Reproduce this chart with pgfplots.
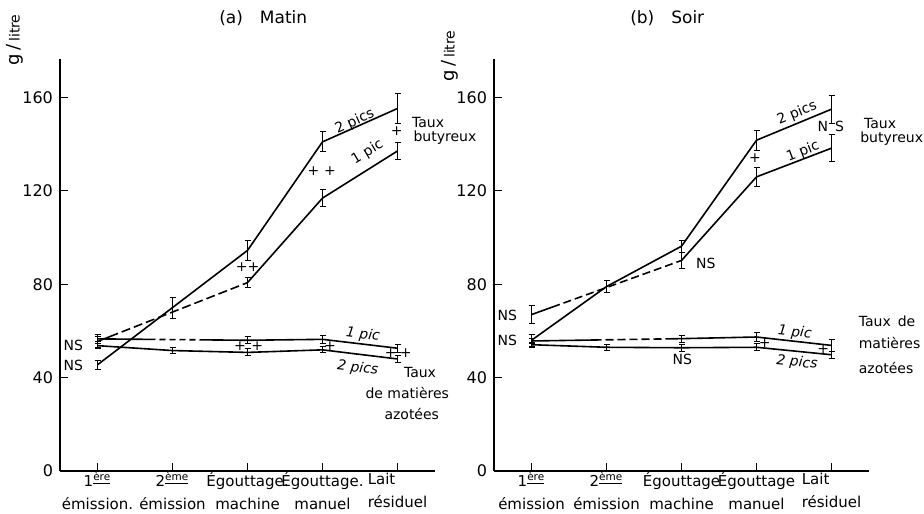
\documentclass[border=0pt]{standalone}
\usepackage{pgfplots}
\pgfplotsset{compat=1.18}
\usepackage{fontspec}
\setmainfont{DejaVu Sans}

\newcommand\ticks{\fontsize{8}{9.6}\selectfont}
\newcommand\labs{\fontsize{7.5}{11.5}\selectfont}
\newcommand\ann{\fontsize{7}{8.4}\selectfont}
\newcommand\ttl{\fontsize{8.5}{10}\selectfont}

\pgfplotsset{
  panel/.style={
    scale only axis, width=187.5pt, height=206pt, anchor=south west,
    xmin=-0.5, xmax=4.5, ymin=0, ymax=176.5,
    axis x line=bottom, axis y line=left,
    axis line style={-, line width=0.6pt},
    xtick={0,1,2,3,4}, ytick={0,40,80,120,160},
    tick align=inside, major tick length=4pt,
    tick style={line width=0.6pt, black},
    clip=false,
    yticklabel style={font=\ticks},
    xticklabel style={font=\labs, align=center, yshift=2.8pt},
    /pgf/number format/assume math mode=true,
  },
  ln/.style={black, line width=0.8pt, mark=none, solid},
  eb/.style={/pgfplots/error bars/y dir=both, /pgfplots/error bars/y explicit,
    /pgfplots/error bars/error mark=-,
    /pgfplots/error bars/error bar style={line width=0.5pt, solid},
    /pgfplots/error bars/error mark options={rotate=90, line width=0.5pt, mark size=1.5pt, solid}},
}

\begin{document}
\begin{tikzpicture}
\path[use as bounding box] (0,0) rectangle (462pt,256.5pt);

% (a) Matin
\begin{axis}[panel, at={(30pt,21pt)},
  xticklabels={{1\textsuperscript{\underline{ère}}\\émission.},{2\textsuperscript{\underline{ème}}\\émission},{Égouttage.\\machine},{Égouttage.\\manuel},{\rlap{Lait}\phantom{résiduel}\\résiduel}}]
% taux butyreux, 2 pics
\addplot[ln, eb] coordinates {(0,45.5) +- (0,2) (1,70) +- (0,4.5) (2,94.5) +- (0,4.3) (3,141) +- (0,4.3) (4,155.3) +- (0,6.3)};
% taux butyreux, 1 pic
\addplot[ln, eb, dash pattern=on 11pt off 2pt on 4.5pt off 2pt on 4.5pt off 2pt on 4.5pt off 2pt on 4.5pt off 2pt on 4.5pt off 2pt on 4.5pt off 2pt on 4.5pt off 2pt on 4.5pt off 2pt on 4.5pt off 2pt on 4.5pt off 2pt on 4.5pt off 2pt on 10pt] coordinates {(0,55.5) +- (0,3) (2,80.7) +- (0,2.3)};
\addplot[ln, eb] coordinates {(2,80.7) +- (0,2.3) (3,116.9) +- (0,3.5) (4,137.1) +- (0,3.6)};
% matieres azotees, 1 pic
\addplot[ln, eb, dash pattern=on 29pt off 2pt on 3pt off 2pt on 3pt off 2pt on 3pt off 2pt on 3pt off 2pt on 40pt] coordinates {(0,56.6) +- (0,1.2) (2,56) +- (0,1.5)};
\addplot[ln, eb] coordinates {(2,56) +- (0,1.5) (3,56.4) +- (0,1.8) (4,52.6) +- (0,1.7)};
% matieres azotees, 2 pics
\addplot[ln, eb] coordinates {(0,53.7) +- (0,1) (1,51.6) +- (0,1.2) (2,50.8) +- (0,1.5) (3,51.9) +- (0,1.3) (4,48) +- (0,1.5)};

\node[font=\ttl] at (axis cs:2.21,194) {(a)\quad Matin};
\node[rotate=90] at (axis cs:-1.1,184.7) {\fontsize{9}{10}\selectfont g\,/\,{\fontsize{7}{8}\selectfont litre}};
\node[font=\ann, anchor=east] at (axis cs:-0.1,54) {NS};
\node[font=\ann, anchor=east] at (axis cs:-0.1,45.4) {NS};
\node[font=\ann] at (axis cs:2.0,87.5) {++};
\node[font=\ann] at (axis cs:2.99,128.5) {+\,\,+};
\node[font=\ann] at (axis cs:3.99,145.4) {+};
\node[font=\ann, rotate=24] at (axis cs:3.43,149.7) {2 pics};
\node[font=\ann, rotate=31] at (axis cs:3.6,136.5) {1 pic};
\node[font=\ann, anchor=west] at (axis cs:4.1,149.1) {Taux};
\node[font=\ann, anchor=west] at (axis cs:4.12,142.7) {butyreux};
\node[font=\ann] at (axis cs:1.9,53.6) {+};
\node[font=\ann] at (axis cs:2.13,53.6) {+};
\node[font=\ann] at (axis cs:3.1,53.6) {+};
\node[font=\ann] at (axis cs:3.91,50.4) {+};
\node[font=\ann] at (axis cs:4.11,50.4) {+};
\node[font=\ann\itshape, rotate=-7] at (axis cs:3.54,58.3) {1 pic};
\node[font=\ann\itshape, rotate=-7] at (axis cs:3.47,44.1) {2 pics};
\node[font=\ann] at (axis cs:4.3,42.1) {Taux};
\node[font=\ann] at (axis cs:4.13,33.3) {de matières};
\node[font=\ann] at (axis cs:4.19,24.4) {azotées};
\end{axis}

% (b) Soir
\begin{axis}[panel, at={(247pt,21pt)},
  xticklabels={{1\textsuperscript{\underline{ère}}\\émission},{2\textsuperscript{\underline{ème}}\\émission},{Égouttage\\machine},{Égouttage\\manuel},{\rlap{Lait}\phantom{résiduel}\\résiduel}}]
% taux butyreux, 2 pics
\addplot[ln, eb] coordinates {(0,56) +- (0,2.5) (1,79) +- (0,2.6) (2,96.3) +- (0,2.5) (3,141.7) +- (0,4.3) (4,155) +- (0,6)};
% taux butyreux, 1 pic
\addplot[ln, eb, dash pattern=on 15pt off 2pt on 4pt off 2pt on 4pt off 2pt on 4pt off 2pt on 4pt off 2pt on 4pt off 2pt on 4pt off 2pt on 4pt off 2pt on 4pt off 2pt on 4pt off 2pt on 4pt off 2pt on 4pt off 2pt on 10pt] coordinates {(0,67) +- (0,3.9) (2,90.2) +- (0,3.6)};
\addplot[ln, eb] coordinates {(2,90.2) +- (0,3.6) (3,126) +- (0,4.2) (4,138.3) +- (0,5.8)};
% matieres azotees, 1 pic
\addplot[ln, eb, dash pattern=on 35pt off 2pt on 4pt off 2pt on 4pt off 2pt on 4pt off 2pt on 4pt off 2pt on 4pt off 2pt on 30pt] coordinates {(0,55.7) +- (0,1) (2,56.7) +- (0,1.5)};
\addplot[ln, eb] coordinates {(2,56.7) +- (0,1.5) (3,57.4) +- (0,1.8) (4,53.8) +- (0,2.5)};
% matieres azotees, 2 pics
\addplot[ln, eb] coordinates {(0,54.1) +- (0,1) (1,53) +- (0,1.2) (2,52.8) +- (0,1.5) (3,53) +- (0,1.5) (4,49.8) +- (0,1.5)};

\node[font=\ttl] at (axis cs:1.81,194) {(b)\quad Soir};
\node[rotate=90] at (axis cs:-1.087,177.8) {\fontsize{9}{10}\selectfont g\,/\,{\fontsize{7}{8}\selectfont litre}};
\node[font=\ann, anchor=east] at (axis cs:-0.1,66.8) {NS};
\node[font=\ann, anchor=east] at (axis cs:-0.1,56.1) {NS};
\node[font=\ann, anchor=west] at (axis cs:2.1,89) {NS};
\node[font=\ann] at (axis cs:2.01,47.6) {NS};
\node[font=\ann] at (axis cs:2.98,134) {+};
\node[font=\ann] at (axis cs:3.99,147.5) {N\,\,\,S};
\node[font=\ann, rotate=22] at (axis cs:3.54,153.2) {2 pics};
\node[font=\ann, rotate=21] at (axis cs:3.62,136.8) {1 pic};
\node[font=\ann, anchor=west] at (axis cs:4.34,148.7) {Taux};
\node[font=\ann, anchor=west] at (axis cs:4.29,142.5) {butyreux};
\node[font=\ann] at (axis cs:3.11,55) {+};
\node[font=\ann] at (axis cs:3.89,52.2) {+};
\node[font=\ann\itshape, rotate=-6] at (axis cs:3.51,59.3) {1 pic};
\node[font=\ann\itshape, rotate=-6] at (axis cs:3.54,46.4) {2 pics};
\node[font=\ann, anchor=west] at (axis cs:4.27,64) {Taux\,\,\,de};
\node[font=\ann, anchor=west] at (axis cs:4.27,54.7) {matières};
\node[font=\ann, anchor=west] at (axis cs:4.27,44) {azotées};
\end{axis}
\end{tikzpicture}
\end{document}
